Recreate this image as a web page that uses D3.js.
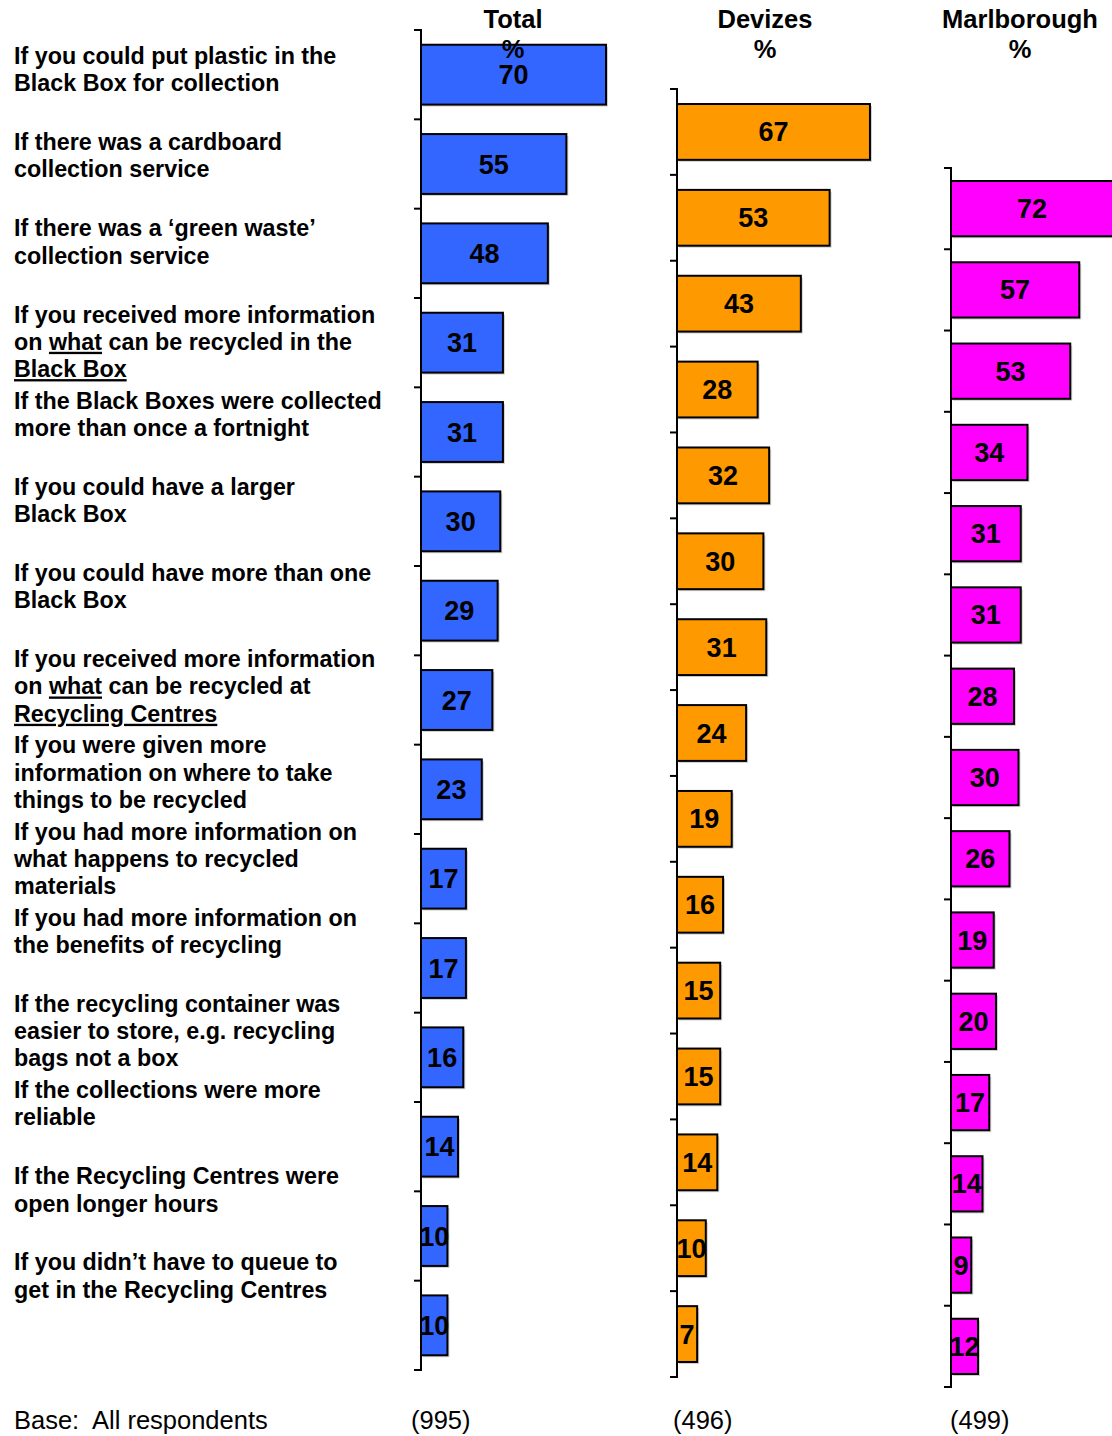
<!DOCTYPE html>
<html>
<head>
<meta charset="utf-8">
<script src="https://cdn.jsdelivr.net/npm/d3@7"></script>
<style>
  body { margin: 0; background: #fff; }
  svg { display: block; font-family: "Liberation Sans", Arial, sans-serif; }
  .cat { font-size: 23.3px; font-weight: bold; fill: #000; }
  .val { font-size: 27px; font-weight: bold; fill: #000; text-anchor: middle; }
  .title { font-size: 25.5px; font-weight: bold; fill: #000; text-anchor: middle; }
  .base { font-size: 25.5px; fill: #000; }
</style>
</head>
<body>
<svg id="chart" width="1112" height="1436"></svg>
<script>
// category labels, one string per line; _text_ marks underlined words
var categories = [
  ["If you could put plastic in the", "Black Box for collection"],
  ["If there was a cardboard", "collection service"],
  ["If there was a \u2018green waste\u2019", "collection service"],
  ["If you received more information", "on _what_ can be recycled in the", "_Black Box_"],
  ["If the Black Boxes were collected", "more than once a fortnight"],
  ["If you could have a larger", "Black Box"],
  ["If you could have more than one", "Black Box"],
  ["If you received more information", "on _what_ can be recycled at", "_Recycling Centres_"],
  ["If you were given more", "information on where to take", "things to be recycled"],
  ["If you had more information on", "what happens to recycled", "materials"],
  ["If you had more information on", "the benefits of recycling"],
  ["If the recycling container was", "easier to store, e.g. recycling", "bags not a box"],
  ["If the collections were more", "reliable"],
  ["If the Recycling Centres were", "open longer hours"],
  ["If you didn\u2019t have to queue to", "get in the Recycling Centres"]
];

var totalValues = [70, 55, 48, 31, 31, 30, 29, 27, 23, 17, 17, 16, 14, 10, 10];
var devizesValues = [67, 53, 43, 28, 32, 30, 31, 24, 19, 16, 15, 15, 14, 10, 7];
var marlboroughValues = [72, 57, 53, 34, 31, 31, 28, 30, 26, 19, 20, 17, 14, 9, 12];

var seriesNames = ["Total", "Devizes", "Marlborough"];
var baseCounts = [995, 496, 499];

var svg = d3.select("#chart");
var idx = d3.range(categories.length);

// panels (layout only)
var panels = [
  {name: seriesNames[0], values: totalValues, base: baseCounts[0], color: "#3366FF",
   x0: 421, top: 30, bottom: 1370, pad: 0.33, span: 264.3, tx: 513, baseX: 411},
  {name: seriesNames[1], values: devizesValues, base: baseCounts[1], color: "#FF9900",
   x0: 677, top: 89, bottom: 1377, pad: 0.35, span: 288, tx: 765, baseX: 673},
  {name: seriesNames[2], values: marlboroughValues, base: baseCounts[2], color: "#FF00FF",
   x0: 951, top: 168, bottom: 1387, pad: 0.32, span: 225, tx: 1020, baseX: 950}
];

// left hand labels
var labelY = d3.scalePoint().domain(idx).range([64, 64 + 86.17 * 14]);
var lineH = 27.3;

var cats = svg.append("g").selectAll("text")
  .data(idx)
  .enter()
  .append("text")
  .attr("class", "cat")
  .attr("x", 14)
  .attr("y", function(i) { return labelY(i); });

cats.each(function(i) {
  var t = d3.select(this);
  categories[i].forEach(function(line, k) {
    var parts = line.split("_");
    var first = true;
    parts.forEach(function(p, j) {
      if (p === "") return;
      var ts = t.append("tspan").text(p);
      if (first) {
        ts.attr("x", 14).attr("dy", k === 0 ? 0 : lineH);
        first = false;
      }
      if (j % 2 === 1) ts.style("text-decoration", "underline");
    });
  });
});

panels.forEach(function(p) {
  var y = d3.scaleBand()
    .domain(idx)
    .range([p.top, p.bottom])
    .paddingInner(p.pad)
    .paddingOuter(p.pad / 2);
  var x = d3.scaleLinear().domain([0, 100]).range([p.x0, p.x0 + p.span]);

  var g = svg.append("g");

  // shadow
  g.selectAll("rect.shadow")
    .data(p.values)
    .enter()
    .append("rect")
    .attr("x", x(0) + 2)
    .attr("y", function(d, i) { return y(i) + 2; })
    .attr("width", function(d) { return x(d) - x(0); })
    .attr("height", y.bandwidth())
    .attr("fill", "#d0d0d0");

  g.selectAll("rect.bar")
    .data(p.values)
    .enter()
    .append("rect")
    .attr("class", "bar")
    .attr("x", x(0))
    .attr("y", function(d, i) { return y(i); })
    .attr("width", function(d) { return x(d) - x(0); })
    .attr("height", y.bandwidth())
    .attr("fill", p.color)
    .attr("stroke", "#000")
    .attr("stroke-width", 2);

  // axis line with ticks on band boundaries
  var step = y.step();
  var ticks = d3.range(categories.length + 1).map(function(k) { return p.top + k * step; });
  g.append("line")
    .attr("x1", p.x0).attr("x2", p.x0)
    .attr("y1", p.top).attr("y2", p.bottom)
    .attr("stroke", "#000").attr("stroke-width", 2);
  g.selectAll("line.tick")
    .data(ticks)
    .enter()
    .append("line")
    .attr("x1", p.x0 - 7).attr("x2", p.x0 + 1)
    .attr("y1", function(d) { return d; })
    .attr("y2", function(d) { return d; })
    .attr("stroke", "#000").attr("stroke-width", 2);

  g.selectAll("text.val")
    .data(p.values)
    .enter()
    .append("text")
    .attr("class", "val")
    .attr("x", function(d) { return (x(0) + x(d)) / 2; })
    .attr("y", function(d, i) { return y(i) + y.bandwidth() / 2 + 9.5; })
    .text(function(d) { return d; });

  svg.append("text").attr("class", "title")
    .attr("x", p.tx).attr("y", 28).text(p.name);
  svg.append("text").attr("class", "title")
    .attr("x", p.tx).attr("y", 58).text("%");

  svg.append("text").attr("class", "base")
    .attr("x", p.baseX).attr("y", 1429).text("(" + p.base + ")");
});

svg.append("text").attr("class", "base")
  .attr("x", 14).attr("y", 1429)
  .attr("xml:space", "preserve")
  .style("white-space", "pre")
  .text("Base:  All respondents");
</script>
</body>
</html>
